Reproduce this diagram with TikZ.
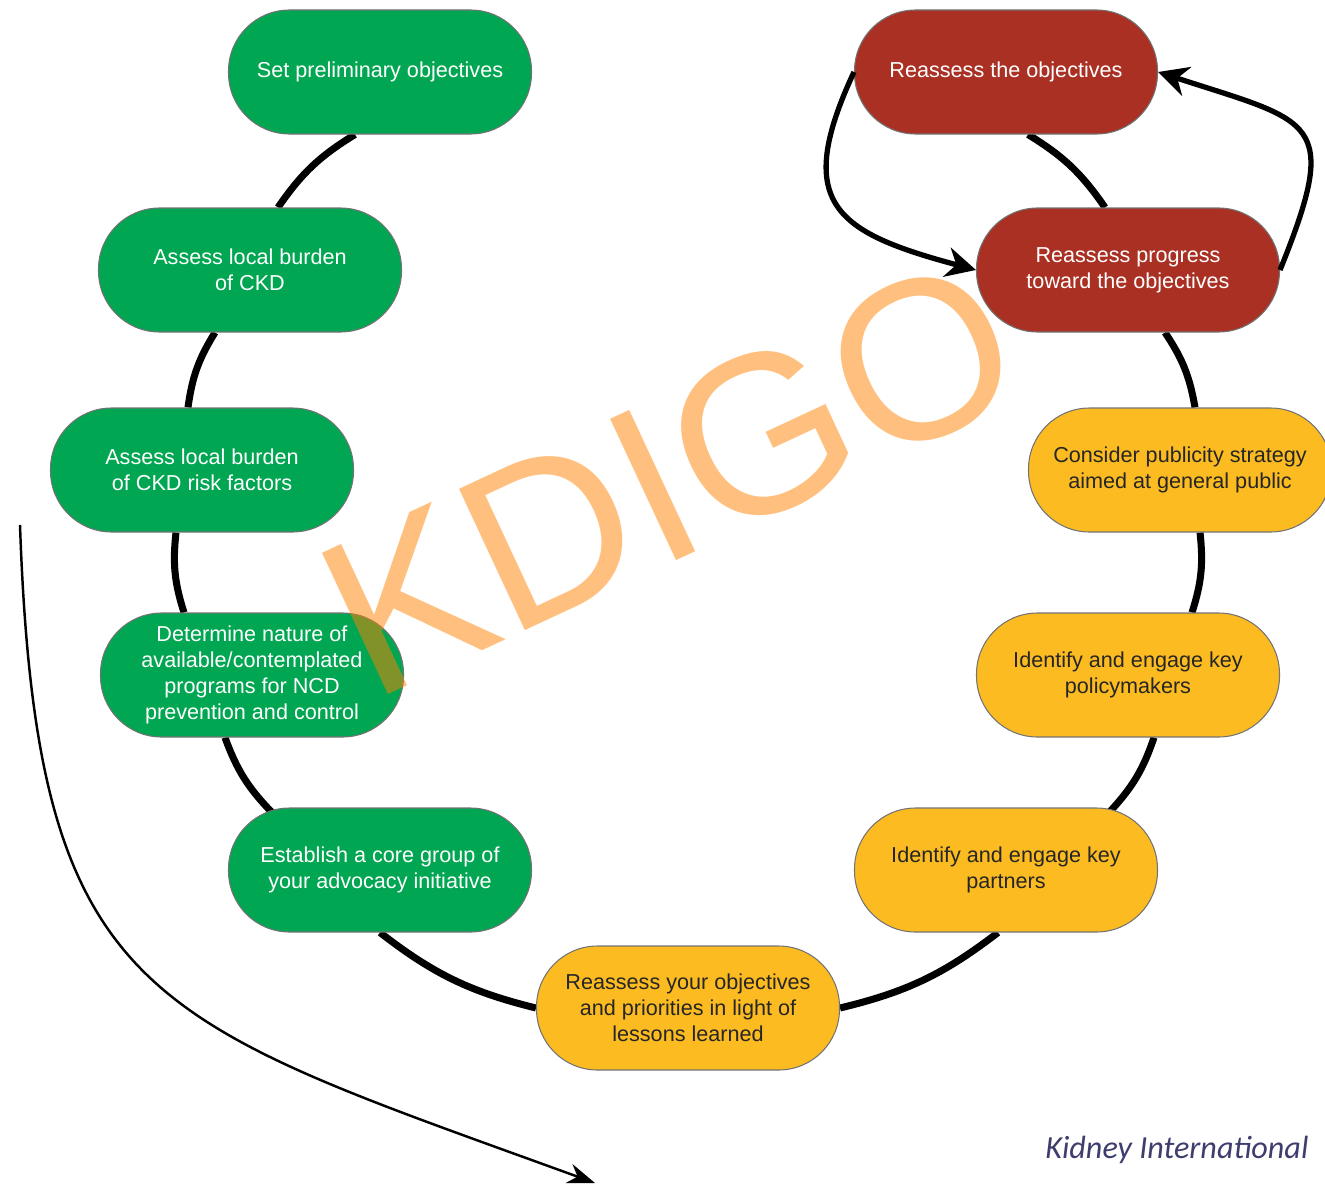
\documentclass[tikz,border=0pt]{standalone}
\usepackage{fontspec}
\setmainfont{Liberation Sans}
\newfontfamily\revista{Carlito}
\usetikzlibrary{arrows.meta,backgrounds}

\definecolor{verdeck}{RGB}{0,166,81}
\definecolor{rojock}{RGB}{170,48,36}
\definecolor{amarillock}{RGB}{252,187,33}
\definecolor{tintarevista}{RGB}{62,62,110}

\begin{document}
\begin{tikzpicture}[
        every node/.style={align=center, font=\fontsize{12.3}{14.8}\selectfont},
        paso/.style={draw=black!55, line width=0.6pt, rounded corners=1.22cm, minimum width=6.06cm, minimum height=2.48cm, inner sep=0pt},
        verde/.style={paso, fill=verdeck, text=white},
        rojo/.style={paso, fill=rojock, text=white},
        amarillo/.style={paso, fill=amarillock, text=black!85},
        enlace/.style={line width=4pt, bend right=12},
        flecha/.style={-{Stealth[length=0.6cm, width=0.6cm]}, line width=3pt},
        retorno/.style={-{Stealth[length=0.55cm, width=0.4cm]}, line width=1.4pt}
    ]
    \useasboundingbox (0,0) rectangle (26.5,-23.7);

    \node[verde] (objetivos) at (7.6,-1.44) {Set preliminary objectives};
    \node[verde] (carga) at (5.0,-5.4) {Assess local burden\\of CKD};
    \node[verde] (riesgo) at (4.04,-9.4) {Assess local burden\\of CKD risk factors};
    \node[verde] (programas) at (5.04,-13.5) {Determine nature of\\available/contemplated\\programs for NCD\\prevention and control};
    \node[verde] (nucleo) at (7.6,-17.4) {Establish a core group of\\your advocacy initiative};
    \node[amarillo] (lecciones) at (13.76,-20.16) {Reassess your objectives\\and priorities in light of\\lessons learned};
    \node[amarillo] (socios) at (20.12,-17.4) {Identify and engage key\\partners};
    \node[amarillo] (politicos) at (22.56,-13.5) {Identify and engage key\\policymakers};
    \node[amarillo] (publicidad) at (23.6,-9.4) {Consider publicity strategy\\aimed at general public};
    \node[rojo] (progreso) at (22.56,-5.4) {Reassess progress\\toward the objectives};
    \node[rojo] (revision) at (20.12,-1.44) {Reassess the objectives};

    \begin{scope}[on background layer]
    \draw [enlace] ([xshift=-0.5cm]objetivos.south) to ([xshift=0.56cm]carga.north);
    \draw [enlace] ([xshift=-0.7cm]carga.south) to ([xshift=-0.28cm]riesgo.north);
    \draw [enlace] ([xshift=-0.52cm]riesgo.south) to ([xshift=-1.36cm]programas.north);
    \draw [enlace] ([xshift=-0.54cm]programas.south) to ([xshift=-2.16cm,yshift=-0.1cm]nucleo.north);
    \draw [enlace] (nucleo.south) to (lecciones.west);
    \draw [enlace] (lecciones.east) to ([xshift=-0.16cm]socios.south);
    \draw [enlace] ([xshift=2.08cm,yshift=-0.08cm]socios.north) to ([xshift=0.52cm]politicos.south);
    \draw [enlace] ([xshift=1.28cm]politicos.north) to ([xshift=0.4cm]publicidad.south);
    \draw [enlace] ([xshift=0.3cm]publicidad.north) to ([xshift=0.74cm]progreso.south);
    \draw [enlace] ([xshift=-0.46cm]progreso.north) to ([xshift=0.44cm]revision.south);
    \end{scope}

    \draw [flecha] (revision.west) to[out=245, in=165, looseness=1.6] (progreso.west);
    \draw [flecha] (progreso.east) to[out=68, in=-18, looseness=1.8] (revision.east);

    \coordinate (inicio) at (0.4,-10.5);
    \coordinate (fin) at (11.9,-23.66);
    \draw [retorno] (inicio) to[out=-88, in=160, looseness=1.4] (fin);

    \node[font=\revista\itshape\fontsize{18.3}{20}\selectfont, text=tintarevista, anchor=west, inner sep=0pt] (revista) at (20.9,-23.0) {Kidney International};

    \node[font=\fontsize{129}{130}\selectfont, text=orange, text opacity=0.5, rotate=25] (marca) at (13.4,-9.54) {KDIGO};
\end{tikzpicture}
\end{document}
